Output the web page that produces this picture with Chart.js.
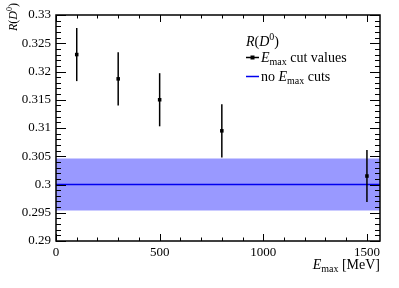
<!DOCTYPE html>
<html>
<head>
<meta charset="utf-8">
<script src="https://cdn.jsdelivr.net/npm/chart.js@4.4.0/dist/chart.umd.min.js"></script>
<style>
  html, body { margin: 0; padding: 0; background: #fff; }
</style>
</head>
<body>
<canvas id="rChart" width="399" height="288"></canvas>
<script>
// R(D0) for different E_max cuts
const emaxValues = [100, 300, 500, 800, 1500];
const rValues = [0.3230, 0.3187, 0.3150, 0.3095, 0.3015];
const rErrors = [0.0047, 0.0047, 0.0047, 0.0047, 0.0046];

// result without any E_max cut (drawn as band)
const nominalR = 0.3000;
const nominalErr = 0.0046;

// axes
const xRange = [0, 1563];
const yRange = [0.29, 0.33];
const xTicks = [0, 500, 1000, 1500];
const xTickLabels = ['0', '500', '1000', '1500'];
const yTicks = [0.29, 0.295, 0.30, 0.305, 0.31, 0.315, 0.32, 0.325, 0.33];
const yTickLabels = ['0.29', '0.295', '0.3', '0.305', '0.31', '0.315', '0.32', '0.325', '0.33'];

const FONT = "'Liberation Serif', 'Times New Roman', serif";
const bandColor = '#9999ff';
const lineColor = '#0000ee';

function setFont(ctx, size, italic) {
    ctx.font = (italic ? 'italic ' : '') + size + 'px ' + FONT;
}

// draws text made of pieces (italic / subscript / superscript), returns width
function richText(ctx, parts, x, y, size, measureOnly) {
    let cx = x;
    parts.forEach(p => {
        const s = (p.sub || p.sup) ? Math.round(size * 0.7) : size;
        setFont(ctx, s, p.it);
        const dy = p.sub ? size * 0.22 : (p.sup ? -size * 0.4 : 0);
        if (!measureOnly) ctx.fillText(p.t, cx, y + dy);
        cx += ctx.measureText(p.t).width;
    });
    return cx - x;
}

const rdLabel = [{ t: 'R', it: 1 }, { t: '(' }, { t: 'D', it: 1 }, { t: '0', sup: 1 }, { t: ')' }];
const cutLabel = [{ t: 'E', it: 1 }, { t: 'max', sub: 1 }, { t: ' cut values' }];
const noCutLabel = [{ t: 'no ' }, { t: 'E', it: 1 }, { t: 'max', sub: 1 }, { t: ' cuts' }];
const xTitle = [{ t: 'E', it: 1 }, { t: 'max', sub: 1 }, { t: ' [MeV]' }];

const errorBars = {
    id: 'errorBars',
    afterDatasetsDraw(chart) {
        const ctx = chart.ctx;
        const xs = chart.scales.x, ys = chart.scales.y;
        ctx.save();
        ctx.strokeStyle = '#000';
        ctx.lineWidth = 1.5;
        emaxValues.forEach((e, i) => {
            const px = xs.getPixelForValue(e);
            ctx.beginPath();
            ctx.moveTo(px, ys.getPixelForValue(rValues[i] + rErrors[i]));
            ctx.lineTo(px, ys.getPixelForValue(rValues[i] - rErrors[i]));
            ctx.stroke();
        });
        ctx.restore();
    }
};

// ROOT style frame: inner ticks on all four sides, titles and legend
const frameDecor = {
    id: 'frameDecor',
    afterDraw(chart) {
        const ctx = chart.ctx;
        const a = chart.chartArea;
        const xs = chart.scales.x, ys = chart.scales.y;
        ctx.save();
        ctx.strokeStyle = '#000';
        ctx.lineWidth = 1;
        ctx.beginPath();
        for (let v = 0; v <= xRange[1]; v += 100) {
            const px = Math.round(xs.getPixelForValue(v)) + 0.5;
            const len = v % 500 === 0 ? 7 : 3.5;
            ctx.moveTo(px, a.bottom); ctx.lineTo(px, a.bottom - len);
            ctx.moveTo(px, a.top); ctx.lineTo(px, a.top + len);
        }
        for (let i = 0; i <= 40; i++) {
            const py = Math.round(ys.getPixelForValue(yRange[0] + i * 0.001)) + 0.5;
            const len = i % 5 === 0 ? 10 : 5;
            ctx.moveTo(a.left, py); ctx.lineTo(a.left + len, py);
            ctx.moveTo(a.right, py); ctx.lineTo(a.right - len, py);
        }
        ctx.stroke();
        ctx.lineWidth = 1.5;
        ctx.strokeRect(a.left, a.top, a.right - a.left, a.bottom - a.top);

        ctx.fillStyle = '#000';
        ctx.textBaseline = 'alphabetic';
        ctx.textAlign = 'left';

        // x title, right aligned to frame
        const w = richText(ctx, xTitle, 0, 0, 14, true);
        richText(ctx, xTitle, a.right - w, 269, 14);

        // y title, rotated
        const wy = richText(ctx, rdLabel, 0, 0, 12, true);
        ctx.save();
        ctx.translate(17, 3);
        ctx.rotate(-Math.PI / 2);
        richText(ctx, rdLabel, -wy, 0, 12);
        ctx.restore();

        // legend
        richText(ctx, rdLabel, 246, 46, 14);
        ctx.lineWidth = 1.5;
        ctx.strokeStyle = '#000';
        ctx.beginPath(); ctx.moveTo(246, 57.5); ctx.lineTo(259, 57.5); ctx.stroke();
        ctx.fillRect(250.5, 55.5, 4, 4);
        richText(ctx, cutLabel, 261, 62, 14);
        ctx.strokeStyle = lineColor;
        ctx.beginPath(); ctx.moveTo(246, 76.5); ctx.lineTo(259, 76.5); ctx.stroke();
        richText(ctx, noCutLabel, 261, 81, 14);
        ctx.restore();
    }
};

const ctx = document.getElementById('rChart');
new Chart(ctx, {
    type: 'scatter',
    data: {
        datasets: [
            {
                // band upper edge
                data: [{ x: xRange[0], y: nominalR + nominalErr }, { x: xRange[1], y: nominalR + nominalErr }],
                showLine: true,
                fill: '+1',
                backgroundColor: bandColor,
                borderWidth: 0,
                pointRadius: 0,
                order: 3
            },
            {
                // band lower edge
                data: [{ x: xRange[0], y: nominalR - nominalErr }, { x: xRange[1], y: nominalR - nominalErr }],
                showLine: true,
                fill: false,
                borderWidth: 0,
                pointRadius: 0,
                order: 3
            },
            {
                // nominal value line
                data: [{ x: xRange[0], y: nominalR }, { x: xRange[1], y: nominalR }],
                showLine: true,
                borderColor: lineColor,
                borderWidth: 1.5,
                pointRadius: 0,
                order: 2
            },
            {
                // E_max cut values
                data: emaxValues.map((e, i) => ({ x: e, y: rValues[i] })),
                pointStyle: 'rect',
                pointRadius: 2.5,
                backgroundColor: '#000',
                borderColor: '#000',
                borderWidth: 0,
                order: 1
            }
        ]
    },
    options: {
        responsive: false,
        animation: false,
        layout: {
            padding: { left: 0, right: 19, top: 15, bottom: 0 }
        },
        plugins: {
            legend: { display: false },
            tooltip: { enabled: false }
        },
        scales: {
            x: {
                type: 'linear',
                min: xRange[0],
                max: xRange[1],
                grid: { display: false, drawTicks: false },
                border: { display: false },
                afterBuildTicks: s => { s.ticks = xTicks.map(v => ({ value: v })); },
                afterFit: s => { s.height = 47; },
                ticks: {
                    color: '#000',
                    padding: 4,
                    maxRotation: 0,
                    font: { family: FONT, size: 13 },
                    callback: v => xTickLabels[xTicks.indexOf(v)]
                }
            },
            y: {
                min: yRange[0],
                max: yRange[1],
                grid: { display: false, drawTicks: false },
                border: { display: false },
                afterBuildTicks: s => { s.ticks = yTicks.map(v => ({ value: v })); },
                afterFit: s => { s.width = 56; },
                ticks: {
                    color: '#000',
                    padding: 5,
                    font: { family: FONT, size: 13 },
                    callback: (v, i) => yTickLabels[i]
                }
            }
        }
    },
    plugins: [errorBars, frameDecor]
});
</script>
</body>
</html>
